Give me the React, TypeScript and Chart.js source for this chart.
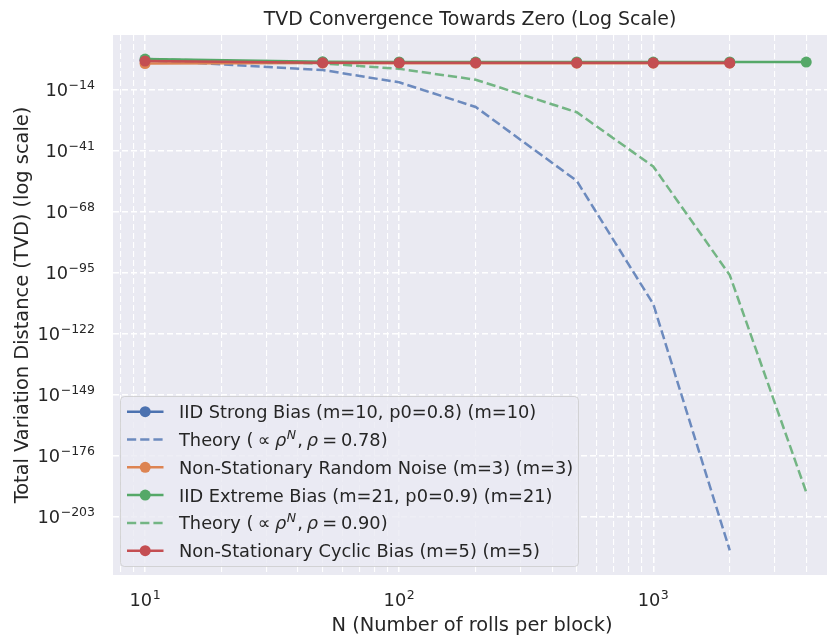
import React, { useEffect, useRef } from "react";
import { Chart, registerables } from "chart.js";

Chart.register(...registerables);

// ---------------- data ----------------
const N_SHORT = [10, 50, 100, 200, 500, 1000, 2000];
const N_LONG = [10, 50, 100, 200, 500, 1000, 2000, 4000];

const iidStrong = [0.1, 0.012, 0.0095, 0.0085, 0.008, 0.0078, 0.0077];
const theoryStrong = [1.0e-1, 4.33e-6, 1.52e-11, 1.88e-22, 3.56e-55, 1.02e-109, 8.5e-219];
const nonStatNoise = [0.0033, 0.005, 0.0045, 0.0048, 0.0046, 0.0047, 0.0046];
const iidExtreme = [0.3, 0.018, 0.016, 0.015, 0.0155, 0.015, 0.0152, 0.0149];
const theoryExtreme = [3.0e-1, 3.61e-3, 1.43e-5, 2.23e-10, 8.5e-25, 7.9e-49, 6.9e-97, 5.2e-193];
const nonStatCyclic = [0.042, 0.008, 0.0065, 0.0072, 0.0069, 0.0071, 0.0068];

const Y_TICK_EXP = [-203, -176, -149, -122, -95, -68, -41, -14];
const X_TICK_EXP = [1, 2, 3];
const X_MINOR = [8, 9, 20, 30, 40, 50, 60, 70, 80, 90, 200, 300, 400, 500, 600, 700, 800, 900, 2000, 3000, 4000];

const TITLE = "TVD Convergence Towards Zero (Log Scale)";
const X_LABEL = "N (Number of rolls per block)";
const Y_LABEL = "Total Variation Distance (TVD) (log scale)";

const LABELS = [
  "IID Strong Bias (m=10, p0=0.8) (m=10)",
  "Theory (∝ ρ^N, ρ = 0.78)",
  "Non-Stationary Random Noise (m=3) (m=3)",
  "IID Extreme Bias (m=21, p0=0.9) (m=21)",
  "Theory (∝ ρ^N, ρ = 0.90)",
  "Non-Stationary Cyclic Bias (m=5) (m=5)",
];
const RHO_TEXT = ["0.78", "0.90"];

// ---------------- style ----------------
const BLUE = "#4C72B0";
const ORANGE = "#DD8452";
const GREEN = "#55A868";
const RED = "#C44E52";
const BLUE_A = "rgba(76,114,176,0.8)";
const GREEN_A = "rgba(85,168,104,0.8)";
const BG = "#EAEAF2";
const TEXT = "#262626";
const FONT = "'DejaVu Sans', sans-serif";
const TICK_SIZE = 17.8;
const SUP_SIZE = 12.5;
const LABEL_SIZE = 19.4;
const TITLE_SIZE = 18.9;
const LEG_SIZE = 17.8;

const VIEW_W = 827;
const VIEW_H = 638;
const CANVAS_W = 833; // chart.js keeps ~5.5px on the right for point overflow; this is cropped away

const X_MIN = 7.48;
const X_MAX = 4850;
const Y_MIN = 1e-229;
const Y_MAX = 1.38e10;

function f(size: number, italic = false) {
  return `${italic ? "italic " : ""}${size}px ${FONT}`;
}

function toPts(xs: number[], ys: number[]) {
  return xs.map((x, i) => ({ x, y: ys[i] }));
}

function drawPow(ctx: CanvasRenderingContext2D, exp: number, x: number, baseline: number, align: string) {
  const base = "10";
  const sup = exp < 0 ? "\u2212" + String(-exp) : String(exp);
  ctx.font = f(TICK_SIZE);
  const w1 = ctx.measureText(base).width;
  ctx.font = f(SUP_SIZE);
  const w2 = ctx.measureText(sup).width;
  const total = w1 + w2 + 0.5;
  const start = align === "right" ? x - total : x - total / 2;
  ctx.textAlign = "left";
  ctx.textBaseline = "alphabetic";
  ctx.fillStyle = TEXT;
  ctx.font = f(TICK_SIZE);
  ctx.fillText(base, start, baseline);
  ctx.font = f(SUP_SIZE);
  ctx.fillText(sup, start + w1 + 0.5, baseline - 7.2);
}

type Seg = { t: string; it?: boolean; sup?: boolean; gap?: number };

function drawSegs(ctx: CanvasRenderingContext2D, segs: Seg[], x: number, baseline: number) {
  let cx = x;
  ctx.textAlign = "left";
  ctx.textBaseline = "alphabetic";
  ctx.fillStyle = TEXT;
  for (const s of segs) {
    const size = s.sup ? SUP_SIZE : LEG_SIZE;
    ctx.font = f(size, !!s.it);
    const y = s.sup ? baseline - 7.5 : baseline;
    ctx.fillText(s.t, cx, y);
    cx += ctx.measureText(s.t).width + (s.gap || 0);
  }
}

function theorySegs(rho: string): Seg[] {
  return [
    { t: "Theory (", gap: 4.5 },
    { t: "\u221D", gap: 4.5 },
    { t: "\u03C1", it: true, gap: 0.5 },
    { t: "N", it: true, sup: true, gap: 1 },
    { t: ",", gap: 4 },
    { t: "\u03C1", it: true, gap: 4 },
    { t: "=", gap: 4 },
    { t: rho + ")" },
  ];
}

const bgPlugin = {
  id: "bgPlugin",
  beforeDraw(chart: any) {
    const { ctx, chartArea } = chart;
    ctx.save();
    ctx.fillStyle = "#ffffff";
    ctx.fillRect(0, 0, chart.width, chart.height);
    ctx.fillStyle = BG;
    ctx.fillRect(chartArea.left, chartArea.top, chartArea.right - chartArea.left, chartArea.bottom - chartArea.top);
    ctx.restore();
  },
};

const textPlugin = {
  id: "textPlugin",
  afterDraw(chart: any) {
    const { ctx, chartArea } = chart;
    const xs = chart.scales.x;
    const ys = chart.scales.y;
    ctx.save();

    for (const e of Y_TICK_EXP) {
      const py = ys.getPixelForValue(Math.pow(10, e));
      drawPow(ctx, e, 95, py + 6.5, "right");
    }
    for (const e of X_TICK_EXP) {
      const px = xs.getPixelForValue(Math.pow(10, e));
      drawPow(ctx, e, px, 606, "center");
    }

    const cxm = (chartArea.left + VIEW_W) / 2;
    ctx.fillStyle = TEXT;
    ctx.textAlign = "center";
    ctx.textBaseline = "alphabetic";
    ctx.font = f(TITLE_SIZE);
    ctx.fillText(TITLE, cxm, 25);
    ctx.font = f(LABEL_SIZE);
    ctx.fillText(X_LABEL, cxm + 2, 631);
    ctx.save();
    ctx.translate(28, (chartArea.top + chartArea.bottom) / 2);
    ctx.rotate(-Math.PI / 2);
    ctx.fillText(Y_LABEL, 0, 0);
    ctx.restore();

    const lx = 120.5, ly = 396.5, lw = 458, lh = 170;
    ctx.beginPath();
    (ctx as any).roundRect(lx, ly, lw, lh, 4);
    ctx.fillStyle = "rgba(234,234,242,0.8)";
    ctx.fill();
    ctx.strokeStyle = "rgba(204,204,204,0.8)";
    ctx.lineWidth = 1;
    ctx.stroke();

    const items = [
      { color: BLUE, dash: false, marker: true },
      { color: BLUE_A, dash: true, marker: false },
      { color: ORANGE, dash: false, marker: true },
      { color: GREEN, dash: false, marker: true },
      { color: GREEN_A, dash: true, marker: false },
      { color: RED, dash: false, marker: true },
    ];
    let theoryIdx = 0;
    items.forEach((it, i) => {
      const cy = 411.7 + i * 27.8;
      ctx.save();
      ctx.strokeStyle = it.color;
      ctx.lineWidth = 2.5;
      ctx.setLineDash(it.dash ? [9.2, 4] : []);
      ctx.beginPath();
      ctx.moveTo(127, cy);
      ctx.lineTo(163.5, cy);
      ctx.stroke();
      ctx.restore();
      if (it.marker) {
        ctx.beginPath();
        ctx.arc(145.2, cy, 5.5, 0, Math.PI * 2);
        ctx.fillStyle = it.color;
        ctx.fill();
      }
      const baseline = cy + 6.5;
      if (it.dash) {
        drawSegs(ctx, theorySegs(RHO_TEXT[theoryIdx]), 179, baseline);
        theoryIdx++;
      } else {
        ctx.font = f(LEG_SIZE);
        ctx.fillStyle = TEXT;
        ctx.textAlign = "left";
        ctx.textBaseline = "alphabetic";
        ctx.fillText(LABELS[i], 179, baseline);
      }
    });

    ctx.restore();
  },
};

export default function App() {
  const ref = useRef<HTMLCanvasElement | null>(null);

  useEffect(() => {
    if (!ref.current) return;
    const solid = (label: string, color: string, xs: number[], ys: number[], order: number) => ({
      label,
      data: toPts(xs, ys),
      borderColor: color,
      backgroundColor: color,
      borderWidth: 2.5,
      pointRadius: 5.5,
      pointBorderWidth: 0,
      pointBackgroundColor: color,
      tension: 0,
      order,
    });
    const dashed = (label: string, color: string, xs: number[], ys: number[], order: number) => ({
      label,
      data: toPts(xs, ys),
      borderColor: color,
      backgroundColor: color,
      borderWidth: 2.5,
      borderDash: [9.2, 4],
      pointRadius: 0,
      tension: 0,
      order,
    });

    const chart = new Chart(ref.current, {
      type: "line",
      data: {
        datasets: [
          solid(LABELS[5], RED, N_SHORT, nonStatCyclic, 0),
          dashed(LABELS[4], GREEN_A, N_LONG, theoryExtreme, 1),
          solid(LABELS[3], GREEN, N_LONG, iidExtreme, 2),
          solid(LABELS[2], ORANGE, N_SHORT, nonStatNoise, 3),
          dashed(LABELS[1], BLUE_A, N_SHORT, theoryStrong, 4),
          solid(LABELS[0], BLUE, N_SHORT, iidStrong, 5),
        ] as any,
      },
      options: {
        responsive: false,
        animation: false,
        devicePixelRatio: 1,
        layout: { padding: { left: 113, top: 35, right: 0, bottom: 63 } },
        plugins: {
          legend: { display: false },
          title: { display: false },
          tooltip: { enabled: false },
        },
        scales: {
          x: {
            type: "logarithmic",
            min: X_MIN,
            max: X_MAX,
            afterBuildTicks: (scale: any) => {
              const major = X_TICK_EXP.map((e) => ({ value: Math.pow(10, e), major: true }));
              const minor = X_MINOR.map((v) => ({ value: v, major: false }));
              scale.ticks = [...minor, ...major].sort((a, b) => a.value - b.value);
            },
            ticks: { display: false, autoSkip: false, callback: () => "" },
            grid: {
              color: "#ffffff",
              lineWidth: (ctx: any) => (ctx.tick && ctx.tick.major ? 1.5 : 1.1),
              drawTicks: false,
            },
            border: { display: false, dash: [6, 3] },
          },
          y: {
            type: "logarithmic",
            min: Y_MIN,
            max: Y_MAX,
            afterBuildTicks: (scale: any) => {
              scale.ticks = Y_TICK_EXP.map((e) => ({ value: Math.pow(10, e), major: true }));
            },
            ticks: { display: false, autoSkip: false, callback: () => "" },
            grid: { color: "#ffffff", lineWidth: 1.5, drawTicks: false },
            border: { display: false, dash: [6, 3] },
          },
        },
      } as any,
      plugins: [bgPlugin, textPlugin],
    });
    return () => chart.destroy();
  }, []);

  return (
    <div
      style={{
        position: "fixed",
        left: 0,
        top: 0,
        width: VIEW_W,
        height: VIEW_H,
        overflow: "hidden",
        background: "#fff",
      }}
    >
      <canvas ref={ref} width={CANVAS_W} height={VIEW_H} style={{ display: "block" }} />
    </div>
  );
}
